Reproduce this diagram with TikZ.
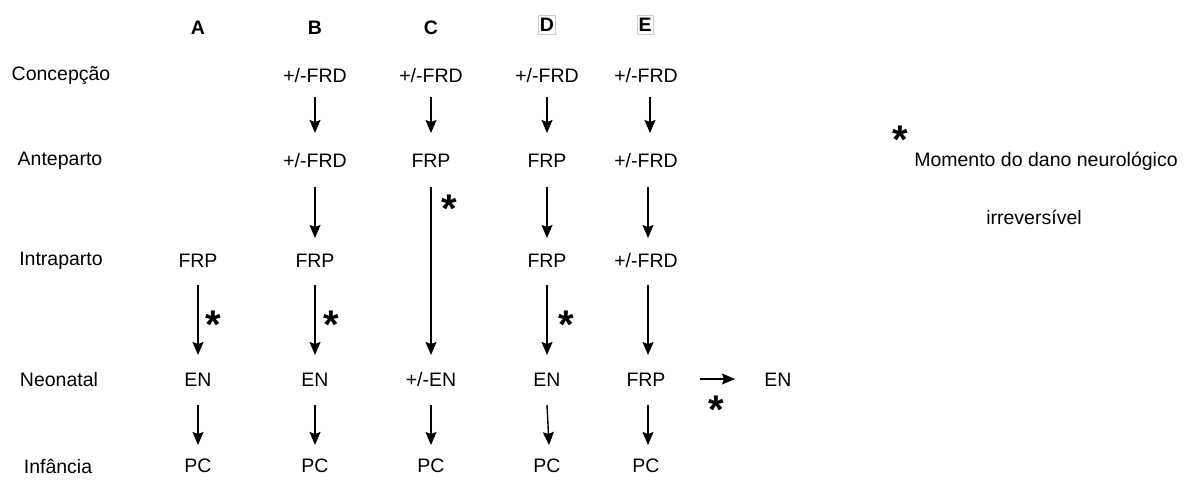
\documentclass[tikz,border=0pt]{standalone}
\usepackage{fontspec}
\setmainfont{Liberation Sans}
\usetikzlibrary{arrows.meta}
\begin{document}
\begin{tikzpicture}[x=1pt,y=-1pt,
  lbl/.style={font=\fontsize{19.5}{23}\selectfont, inner sep=1pt},
  hdr/.style={font=\fontsize{19.5}{23}\selectfont\bfseries, inner sep=1pt},
  hbox/.style={hdr, draw=black!20, line width=0.8pt, inner xsep=1.5pt, inner ysep=3pt},
  star/.style={font=\fontsize{40}{40}\selectfont\bfseries, inner sep=0pt},
  arr/.style={line width=1.4pt, -{Stealth[length=13pt,width=11pt,inset=2pt]}}]
\useasboundingbox (0,0) rectangle (1184,488);
% headers
\node[hdr] (hA) at (198,28) {A};
\node[hdr] (hB) at (315,28) {B};
\node[hdr] (hC) at (431,28) {C};
\node[hbox] (hD) at (547,25) {D};
\node[hbox] (hE) at (645,25) {E};
% row labels
\node[lbl] (r1) at (61,76) {Concepção};
\node[lbl] (r2) at (60,161) {Anteparto};
\node[lbl] (r3) at (61,261) {Intraparto};
\node[lbl] (r4) at (59,380) {Neonatal};
\node[lbl] (r5) at (58,466) {Infância};
% column A
\node[lbl] (a3) at (198,261) {FRP};
\node[lbl] (a4) at (198,380) {EN};
\node[lbl] (a5) at (198,466) {PC};
% column B
\node[lbl] (b1) at (315,76) {+/-FRD};
\node[lbl] (b2) at (315,161) {+/-FRD};
\node[lbl] (b3) at (315,261) {FRP};
\node[lbl] (b4) at (315,380) {EN};
\node[lbl] (b5) at (315,466) {PC};
% column C
\node[lbl] (c1) at (431,76) {+/-FRD};
\node[lbl] (c2) at (431,161) {FRP};
\node[lbl] (c4) at (431,380) {+/-EN};
\node[lbl] (c5) at (431,466) {PC};
% column D
\node[lbl] (d1) at (547,76) {+/-FRD};
\node[lbl] (d2) at (547,161) {FRP};
\node[lbl] (d3) at (547,261) {FRP};
\node[lbl] (d4) at (547,380) {EN};
\node[lbl] (d5) at (547,466) {PC};
% column E
\node[lbl] (e1) at (646,76) {+/-FRD};
\node[lbl] (e2) at (646,161) {+/-FRD};
\node[lbl] (e3) at (646,261) {+/-FRD};
\node[lbl] (e4) at (646,380) {FRP};
\node[lbl] (en) at (778,380) {EN};
\node[lbl] (e5) at (646,466) {PC};
% arrows
\draw[arr] (198,285) -- (198,355);
\draw[arr] (198,405) -- (198,445);
\draw[arr] (315,97) -- (315,133);
\draw[arr] (315,187) -- (315,238);
\draw[arr] (315,285) -- (315,355);
\draw[arr] (315,405) -- (315,445);
\draw[arr] (431,97) -- (431,133);
\draw[arr] (431,187) -- (431,355);
\draw[arr] (431,405) -- (431,445);
\draw[arr] (547,97) -- (547,133);
\draw[arr] (547,187) -- (547,238);
\draw[arr] (547,285) -- (547,355);
\draw[arr] (547,405) -- (549,445);
\draw[arr] (650,97) -- (650,133);
\draw[arr] (648,187) -- (648,238);
\draw[arr] (648,285) -- (648,355);
\draw[arr] (648,405) -- (648,445);
\draw[arr] (700,379) -- (735,379);
% stars
\node[star] (s1) at (213,325) {*};
\node[star] (s2) at (331,325) {*};
\node[star] (s3) at (449,209) {*};
\node[star] (s4) at (566,325) {*};
\node[star] (s5) at (716,410) {*};
\node[star] (s6) at (900,140) {*};
% legend
\node[lbl] (m1) at (1046,161) {Momento do dano neurológico};
\node[lbl] (m2) at (1034,217) {irreversível};
\end{tikzpicture}
\end{document}
